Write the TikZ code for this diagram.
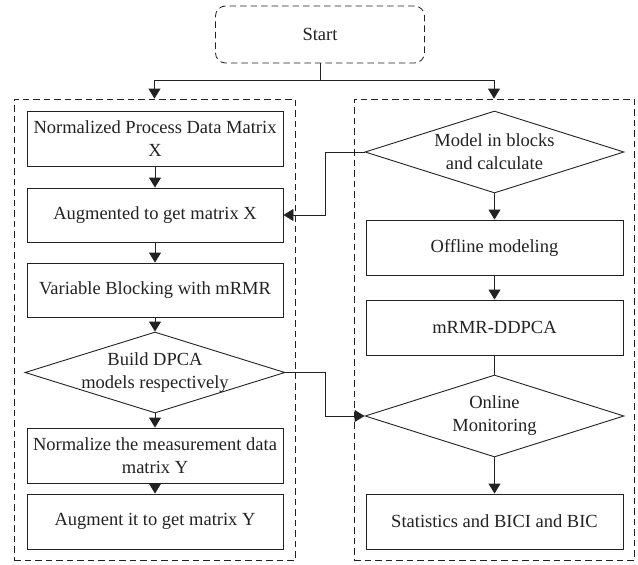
\documentclass[tikz,border=0pt]{standalone}
\usepackage{fontspec}
\setmainfont{Liberation Serif}
\usetikzlibrary{arrows.meta,shapes.geometric}
\definecolor{ink}{HTML}{222222}
\begin{document}
\begin{tikzpicture}[x=1pt,y=-1pt,
  every node/.style={font=\fontsize{18.5}{23}\selectfont, text=ink},
  procbox/.style={draw=ink, line width=0.9pt, minimum width=256pt, minimum height=55pt, inner sep=0pt, align=center},
  decbox/.style={draw=ink, line width=0.9pt, shape=diamond, minimum width=259pt, minimum height=82pt, inner sep=0pt},
  panel/.style={draw=ink, line width=0.8pt, dash pattern=on 6.5pt off 4pt, inner sep=0pt},
  conn/.style={draw=ink, line width=0.9pt},
  arr/.style={conn, -{Triangle[length=10pt,width=12pt]}}
]
\useasboundingbox (0,0) rectangle (638,565);

% panels
\node[panel, minimum width=281pt, minimum height=461pt] (lp) at (154.5,329.5) {};
\node[panel, minimum width=280pt, minimum height=461pt] (rp) at (494,329.5) {};

% start
\node[panel, rounded corners=10pt, minimum width=209pt, minimum height=57pt] (start) at (320,34.5) {Start};

% left column
\node[procbox] (b1) at (155,138.5) {Normalized Process Data Matrix\\X};
\node[procbox, minimum height=54pt] (b2) at (155,215) {Augmented to get matrix X};
\node[procbox, minimum height=54pt] (b3) at (155,290) {Variable Blocking with mRMR};
\node[decbox, minimum width=260pt, minimum height=81pt] (dl) at (155,372.5) {};
\node[align=center] (dlt) at (dl.center) {Build DPCA\\models respectively};
\node[procbox] (b4) at (155,455.5) {Normalize the measurement data\\matrix Y};
\node[procbox] (b5) at (155,521.5) {Augment it to get matrix Y};

% right column
\node[decbox] (dr1) at (494.5,152) {};
\node[align=center] (dr1t) at (dr1.center) {Model in blocks\\and calculate};
\node[procbox, minimum width=257pt] (r1) at (494.5,247.5) {Offline modeling};
\node[procbox, minimum width=257pt] (r2) at (494.5,327.5) {mRMR-DDPCA};
\node[decbox] (dr2) at (494.5,416) {};
\node[align=center] (dr2t) at (dr2.center) {Online\\Monitoring};
\node[procbox, minimum width=257pt] (r3) at (494.5,521.5) {Statistics and BICI and BIC};

% start split
\draw[conn] (start.south) -- ++(0,17) coordinate (sp);
\draw[arr] (sp) -| (lp.north);
\draw[arr] (sp) -| (rp.north);

% left flow
\draw[arr] (b1) -- (b2);
\draw[arr] (b2) -- (b3);
\draw[arr] (b3) -- (dl.north);
\draw[arr] (dl.south) -- (b4);
\draw[arr] (b4) -- (b5);

% right flow
\draw[arr] (dr1.south) -- (r1);
\draw[arr] (r1) -- (r2);
\draw[conn] (r2) -- (dr2.north);
\draw[arr] (dr2.south) -- (r3);

% cross connectors
\coordinate (m1) at (325,152);
\coordinate (m2) at (325,215);
\draw[arr] (dr1.west) -- (m1) -- (m2) -- (b2.east);
\coordinate (m3) at (325,372.5);
\coordinate (m4) at (325,416);
\draw[arr] (dl.east) -- (m3) -- (m4) -- (dr2.west);
\end{tikzpicture}
\end{document}
